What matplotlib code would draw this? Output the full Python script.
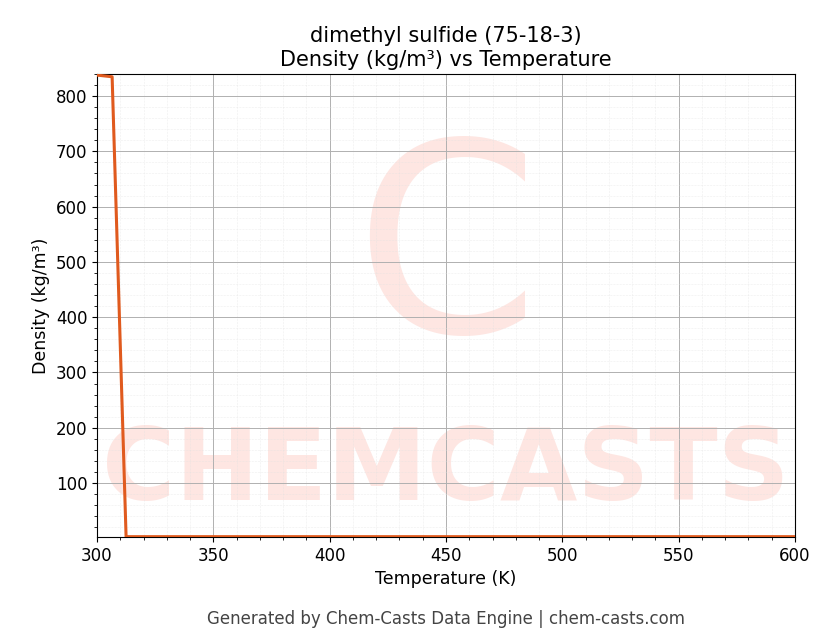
import matplotlib
matplotlib.use("Agg")
import matplotlib.pyplot as plt
from matplotlib.ticker import MultipleLocator, AutoMinorLocator

temps = [300, 306.5, 312.5, 350, 400, 450, 500, 550, 600]
density = [838, 835, 3, 3, 3, 3, 3, 3, 3]

fig = plt.figure(figsize=(8.3, 6.44), dpi=100)
ax = fig.add_axes([97/830, 1-537/644, (795-97)/830, (537-74)/644])

ax.text(0.5, 0.6, "C", transform=ax.transAxes, fontsize=190, color="#fee6e2",
        ha="center", va="center", zorder=0, clip_on=True)
ax.text(0.5, 0.14, "CHEMCASTS", transform=ax.transAxes, fontsize=72, color="#fee6e2",
        ha="center", va="center", fontweight="bold", zorder=0, clip_on=True)

ax.plot(temps, density, color="#e05a1e", lw=2.2, zorder=3)
ax.set_xlim(300, 600)
ax.set_ylim(2.4, 840)
ax.xaxis.set_major_locator(MultipleLocator(50))
ax.yaxis.set_major_locator(MultipleLocator(100))
ax.xaxis.set_minor_locator(AutoMinorLocator(5))
ax.yaxis.set_minor_locator(AutoMinorLocator(5))
ax.grid(which="major", color="#b0b0b0", lw=0.7)
ax.grid(which="minor", color="#e0e0e0", lw=0.4, ls=":")
ax.tick_params(labelsize=12)
ax.set_xlabel("Temperature (K)", fontsize=12.5)
ax.set_ylabel("Density (kg/m³)", fontsize=12.5)
ax.set_title("dimethyl sulfide (75-18-3)\nDensity (kg/m³) vs Temperature", fontsize=15)
fig.text(446/830, 1-619/644, "Generated by Chem-Casts Data Engine | chem-casts.com",
         ha="center", va="center", fontsize=12, color="#444444")
fig.savefig("out.png", dpi=100)
